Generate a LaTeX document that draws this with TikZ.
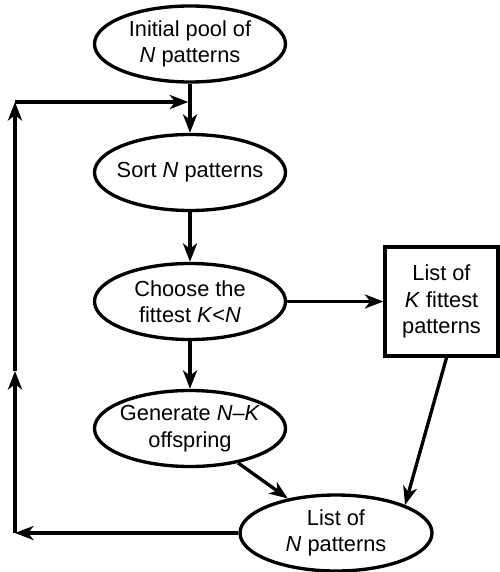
\documentclass[tikz,border=0pt]{standalone}
\usepackage{fontspec}
\setmainfont{Liberation Sans}
\usetikzlibrary{shapes.geometric,arrows.meta}
\tikzset{
  stage/.style={draw,ellipse,line width=1.9pt,inner xsep=-0.4cm,inner ysep=-2pt,
    minimum width=3.82cm,minimum height=1.52cm,align=center},
  flow/.style={line width=1.9pt,-{Stealth[length=10.5pt,width=8pt,inset=3pt]}}
}
\begin{document}
\begin{tikzpicture}[font=\fontsize{12.4}{15}\selectfont]
\useasboundingbox (0,0) rectangle (10,-11.44);
% Main column
\node[stage] (init) at (3.8,-0.88) {Initial pool of\\\textit{N} patterns};
\node[stage] (sort) at (3.8,-3.45) {Sort \textit{N} patterns};
\node[stage] (choose) at (3.8,-6.03) {Choose the\\fittest \textit{K}<\textit{N}};
\node[stage] (gen) at (3.8,-8.57) {Generate \textit{N}–\textit{K}\\offspring};
\node[stage,minimum width=3.84cm] (nlist) at (6.72,-10.66) {List of\\\textit{N} patterns};

% Kept patterns
\node[draw,line width=1.9pt,minimum width=2.26cm,minimum height=2.18cm,align=center]
  (klist) at (8.83,-6.03) {List of\\\textit{K} fittest\\patterns};

% Loop back
\coordinate (cbl) at (0.3,-10.66);
\coordinate (cmid) at (0.3,-7.42);
\coordinate (ctl) at (0.3,-2.04);
\coordinate (cjoin) at (3.8,-2.04);
\coordinate (kfoot) at (8.94,-7.12);

\draw[flow] (init) -- (sort);
\draw[flow] (sort) -- (choose);
\draw[flow] (choose) -- (gen);
\draw[flow] (choose) -- (klist);
\draw[flow] (gen) -- (nlist);
\draw[flow] (kfoot) -- (nlist.north east);
\draw[flow] (nlist) -- (cbl);
\draw[flow] (cbl) -- (cmid);
\draw[flow] (cmid) -- (ctl);
\draw[flow,shorten >=1pt] (ctl) -- (cjoin);
\end{tikzpicture}
\end{document}
